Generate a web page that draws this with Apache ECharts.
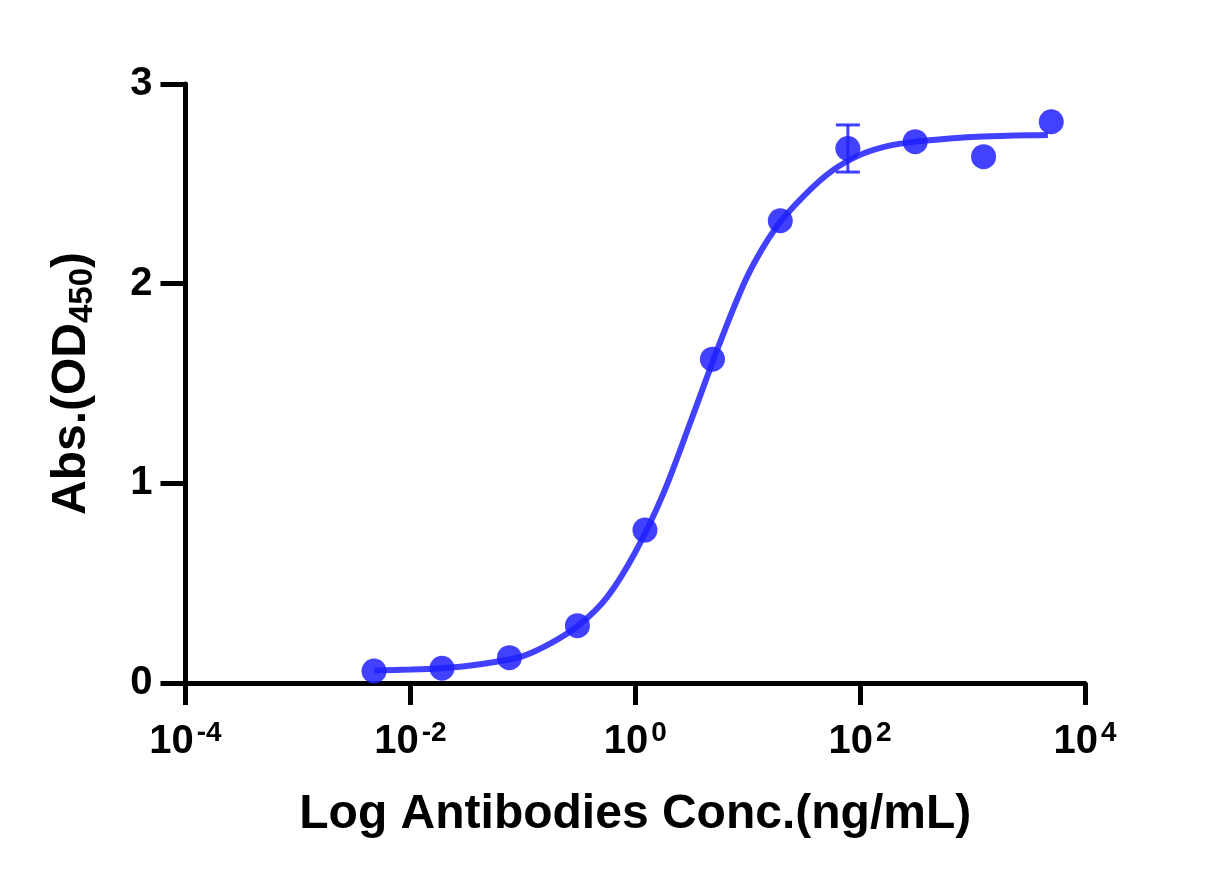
<!DOCTYPE html>
<html><head><meta charset="utf-8">
<script src="https://cdn.jsdelivr.net/npm/echarts@6/dist/echarts.min.js"></script>
<style>html,body{margin:0;padding:0;background:#fff}#c{width:1228px;height:887px}</style>
</head><body><div id="c"></div>
<script>
// Measured points (ng/mL, OD450)
const concentrations = [0.00475, 0.0191, 0.076, 0.306, 1.22, 4.86, 19.5, 77.8, 309, 1253, 5012];
const absorbance     = [0.060, 0.074, 0.127, 0.287, 0.766, 1.622, 2.315, 2.677, 2.711, 2.636, 2.811];
const errors         = [0, 0, 0, 0, 0, 0, 0, 0.118, 0, 0, 0];
// Fitted curve (ng/mL, OD450)
const curveConc = [0.00479, 0.01, 0.0178, 0.0316, 0.0562, 0.1, 0.178, 0.316, 0.562, 1, 1.78, 3.16, 5.62, 10, 17.8, 31.6, 56.2, 100, 178, 316, 562, 1000, 1778, 3162, 4677];
const curveAbs  = [0.062, 0.067, 0.073, 0.085, 0.105, 0.135, 0.20, 0.29, 0.43, 0.655, 0.95, 1.32, 1.70, 2.04, 2.28, 2.44, 2.565, 2.645, 2.69, 2.712, 2.725, 2.735, 2.740, 2.743, 2.744];
const yTicks = [0, 1, 2, 3];
const xTickExponents = [-4, -2, 0, 2, 4];

const FONT = "'Liberation Sans', Arial, Helvetica, sans-serif";
const BLUE = '#2020ff';
const xTickValues = xTickExponents.map(e => Math.pow(10, e));

const chart = echarts.init(document.getElementById('c'), null, {renderer: 'canvas'});
chart.setOption({
  animation: false,
  backgroundColor: '#fff',
  grid: {left: 185.5, right: 143, top: 84, bottom: 204, containLabel: false},
  xAxis: {
    type: 'log', logBase: 10,
    min: xTickValues[0], max: xTickValues[xTickValues.length - 1],
    name: 'Log Antibodies Conc.(ng/mL)',
    nameLocation: 'middle', nameGap: 108,
    nameTextStyle: {fontFamily: FONT, fontWeight: 'bold', fontSize: 48, color: '#000'},
    axisLine: {show: true, onZero: false, lineStyle: {color: '#000', width: 5}},
    axisTick: {show: true, inside: false, length: 22, customValues: xTickValues, lineStyle: {color: '#000', width: 5}},
    minorTick: {show: false},
    splitLine: {show: false},
    axisLabel: {
      margin: 36, color: '#000', customValues: xTickValues,
      formatter: function (v) { return '{b|10}{s|' + Math.round(Math.log10(v)) + '}'; },
      rich: {
        b: {fontFamily: FONT, fontWeight: 'bold', fontSize: 40, color: '#000', lineHeight: 46},
        s: {fontFamily: FONT, fontWeight: 'bold', fontSize: 28, color: '#000', lineHeight: 28, verticalAlign: 'top', padding: [0, 0, 0, 3]}
      }
    }
  },
  yAxis: {
    type: 'value', min: yTicks[0], max: yTicks[yTicks.length - 1], interval: 1,
    name: '{a|Abs.(OD}{sub|450}{a|)}',
    nameLocation: 'middle', nameGap: 86, nameRotate: 90,
    nameTextStyle: {
      rich: {
        a: {fontFamily: FONT, fontWeight: 'bold', fontSize: 48, color: '#000', lineHeight: 56},
        sub: {fontFamily: FONT, fontWeight: 'bold', fontSize: 33, color: '#000', lineHeight: 33, verticalAlign: 'bottom'}
      }
    },
    axisLine: {show: true, onZero: false, lineStyle: {color: '#000', width: 5}},
    axisTick: {show: true, inside: false, length: 25, lineStyle: {color: '#000', width: 5}},
    splitLine: {show: false},
    axisLabel: {margin: 33, fontFamily: FONT, fontWeight: 'bold', fontSize: 40, color: '#000'}
  },
  series: [
    {
      type: 'line', name: 'fit',
      data: curveConc.map((x, i) => [x, curveAbs[i]]),
      smooth: 0.3, showSymbol: false, symbol: 'none',
      lineStyle: {color: BLUE, width: 6, opacity: 0.85},
      z: 2
    },
    {
      type: 'custom', name: 'err',
      data: concentrations.map((x, i) => [x, absorbance[i], errors[i]]),
      renderItem: function (params, api) {
        const err = api.value(2);
        if (!(err > 0.02)) return null;
        const x = api.value(0), y = api.value(1);
        const top = api.coord([x, y + err]);
        const bot = api.coord([x, y - err]);
        const hw = 12;
        const st = {stroke: BLUE, lineWidth: 3, opacity: 0.85};
        return {type: 'group', children: [
          {type: 'line', shape: {x1: top[0], y1: top[1], x2: bot[0], y2: bot[1]}, style: st},
          {type: 'line', shape: {x1: top[0] - hw, y1: top[1], x2: top[0] + hw, y2: top[1]}, style: st},
          {type: 'line', shape: {x1: bot[0] - hw, y1: bot[1], x2: bot[0] + hw, y2: bot[1]}, style: st}
        ]};
      },
      z: 3
    },
    {
      type: 'scatter', name: 'data',
      data: concentrations.map((x, i) => [x, absorbance[i]]),
      symbol: 'circle', symbolSize: 25,
      itemStyle: {color: BLUE, opacity: 0.85},
      z: 4
    }
  ]
});
</script></body></html>
